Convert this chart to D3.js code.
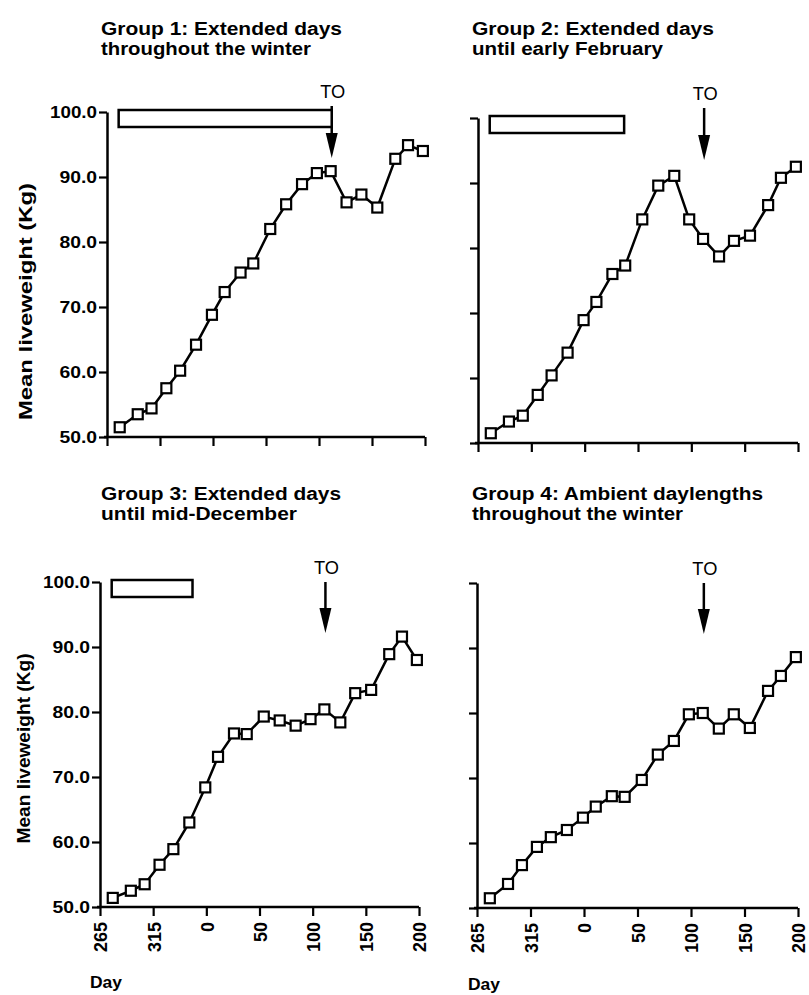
<!DOCTYPE html>
<html><head><meta charset="utf-8">
<script src="https://cdn.jsdelivr.net/npm/d3@7"></script>
<style>
body{margin:0;background:#fff}
svg{display:block}
text{font-family:"Liberation Sans",Arial,Helvetica,sans-serif;fill:#000}
</style>
</head><body>
<svg id="chart" width="809" height="995"></svg>
<script>
// ---- data (day of year; x axis runs Sept -> July) ----
const days = [277, 294, 307, 321, 334, 349, 364, 11, 26, 38, 54, 69, 84, 98, 111, 126, 140, 155, 172, 184, 198];
const group1 = [51.5, 53.5, 54.4, 57.5, 60.2, 64.2, 68.8, 72.3, 75.3, 76.7, 82.0, 85.8, 88.9, 90.6, 90.9, 86.1, 87.3, 85.3, 92.8, 94.9, 94.0];
const group2 = [51.5, 53.3, 54.2, 57.4, 60.4, 63.9, 68.9, 71.7, 76.0, 77.3, 84.4, 89.6, 91.1, 84.4, 81.4, 78.7, 81.1, 81.9, 86.6, 90.8, 92.5];
const group3 = [51.4, 52.5, 53.5, 56.5, 58.9, 63.0, 68.4, 73.1, 76.7, 76.6, 79.3, 78.7, 77.9, 78.9, 80.4, 78.4, 82.9, 83.4, 88.9, 91.6, 88.0];
const group4 = [51.5, 53.7, 56.6, 59.4, 60.9, 62.0, 63.9, 65.6, 67.2, 67.1, 69.7, 73.6, 75.7, 79.8, 80.0, 77.6, 79.8, 77.7, 83.4, 85.7, 88.6];

const xTickValues = [265, 315, 365, 415, 465, 515, 565];
const xTickLabels = ["265", "315", "0", "50", "100", "150", "200"];
const yTickValues = [50, 60, 70, 80, 90, 100];
const yTickLabels = ["50.0", "60.0", "70.0", "80.0", "90.0", "100.0"];

const titles = [
  ["Group 1: Extended days", "throughout the winter"],
  ["Group 2: Extended days", "until early February"],
  ["Group 3: Extended days", "until mid-December"],
  ["Group 4: Ambient daylengths", "throughout the winter"]
];
const extendedStart = 276;               // start of extended-day treatment
const extendedEnd = [112, 37, 352, null]; // end day per group (none for group 4)
const turnoutDay = 112;                   // "TO"
const yLabel = "Mean liveweight (Kg)";
const xLabel = "Day";

const toAxisDay = d => d < 265 ? d + 365 : d;

// ---- layout ----
const panels = [
  {series: group1, x0: 107, x1: 425, yb: 437, yt: 112, yLab: true, xLab: false,
   title: {x: 101, y: 35, w: [241, 210]}, toBase: 98, toTip: 158, ylab: {x: 32, len: 237}},
  {series: group2, x0: 478, x1: 798, yb: 443, yt: 118, yLab: false, xLab: false,
   title: {x: 472, y: 35, w: [242, 191]}, toBase: 100, toTip: 160},
  {series: group3, x0: 100, x1: 419, yb: 907, yt: 582, yLab: true, xLab: true,
   title: {x: 101, y: 500, w: [240, 196]}, toBase: 574, toTip: 633, ylab: {x: 30, len: 190}, dayX: 90, dayY: 988},
  {series: group4, x0: 477, x1: 798, yb: 908, yt: 583, yLab: false, xLab: true,
   title: {x: 472, y: 500, w: [291, 211]}, toBase: 575, toTip: 634, dayX: 468, dayY: 990}
];

const svg = d3.select("#chart");

panels.forEach((p, gi) => {
  const g = svg.append("g");
  const x = d3.scaleLinear().domain([265, 565]).range([p.x0, p.x1]);
  const y = d3.scaleLinear().domain([50, 100]).range([p.yb, p.yt]);

  // title
  titles[gi].forEach((t, li) => {
    g.append("text").attr("x", p.title.x).attr("y", p.title.y + li * 20)
      .attr("font-size", 18).attr("font-weight", "bold")
      .attr("textLength", p.title.w[li]).attr("lengthAdjust", "spacingAndGlyphs")
      .text(t);
  });

  // y axis
  const ya = g.append("g").attr("transform", `translate(${p.x0},0)`)
    .call(d3.axisLeft(y).tickValues(yTickValues).tickSize(8).tickSizeOuter(0)
      .tickFormat((d, i) => p.yLab ? yTickLabels[i] : ""));
  ya.select(".domain").attr("stroke-width", 2.5);
  ya.selectAll(".tick line").attr("stroke-width", 2.2);
  ya.selectAll(".tick text").attr("font-size", 16).attr("font-weight", "bold")
    .attr("x", -10).attr("fill", "#000")
    .attr("textLength", function () { return this.textContent.length * 9.4; })
    .attr("lengthAdjust", "spacingAndGlyphs");

  // x axis
  const xa = g.append("g").attr("transform", `translate(0,${p.yb})`)
    .call(d3.axisBottom(x).tickValues(xTickValues).tickSize(9).tickSizeOuter(0)
      .tickFormat((d, i) => p.xLab ? xTickLabels[i] : ""));
  xa.select(".domain").attr("stroke-width", 2.5).attr("d", `M${p.x0 - 3},0H${p.x1}`);
  xa.selectAll(".tick line").attr("stroke-width", 2.2);
  xa.selectAll(".tick text").attr("font-size", 19).attr("font-weight", "bold")
    .attr("transform", "rotate(-90)").attr("text-anchor", "end")
    .attr("x", -15).attr("y", 0).attr("dy", "0.36em").attr("fill", "#000")
    .attr("textLength", function () { return this.textContent.length * 10; })
    .attr("lengthAdjust", "spacingAndGlyphs");

  // y label
  if (p.ylab) {
    const cy = (p.yb + p.yt) / 2 + (gi === 0 ? 27 : 4);
    g.append("text").attr("transform", `translate(${p.ylab.x},${cy}) rotate(-90)`)
      .attr("text-anchor", "middle").attr("font-size", 18).attr("font-weight", "bold")
      .attr("textLength", p.ylab.len).attr("lengthAdjust", "spacingAndGlyphs")
      .text(yLabel);
  }
  if (p.dayX !== undefined) {
    g.append("text").attr("x", p.dayX).attr("y", p.dayY)
      .attr("font-size", 17).attr("font-weight", "bold")
      .attr("textLength", 32).attr("lengthAdjust", "spacingAndGlyphs").text(xLabel);
  }

  // TO arrow
  const xa0 = x(toAxisDay(turnoutDay));
  g.append("text").attr("x", xa0 + 1).attr("y", p.toBase).attr("text-anchor", "middle")
    .attr("font-size", 19).attr("textLength", 25).attr("lengthAdjust", "spacingAndGlyphs")
    .text("TO");
  g.append("line").attr("x1", xa0).attr("x2", xa0)
    .attr("y1", p.toBase + 8).attr("y2", p.toTip - 20)
    .attr("stroke", "#000").attr("stroke-width", 2.5);
  g.append("path")
    .attr("d", `M${xa0 - 6},${p.toTip - 25}L${xa0 + 6},${p.toTip - 25}L${xa0},${p.toTip}Z`)
    .attr("fill", "#000");

  // extended-days bar
  if (extendedEnd[gi] !== null) {
    const xs = x(extendedStart), xe = x(toAxisDay(extendedEnd[gi]));
    g.append("rect").attr("x", xs).attr("y", p.yt - 2)
      .attr("width", xe - xs).attr("height", 17)
      .attr("fill", "#fff").attr("stroke", "#000").attr("stroke-width", 2.5);
  }

  // series line + markers
  const pts = days.map((d, i) => [toAxisDay(d), p.series[i]]);
  g.append("path").datum(pts)
    .attr("d", d3.line().x(d => x(d[0])).y(d => y(d[1])))
    .attr("fill", "none").attr("stroke", "#000").attr("stroke-width", 2.5);
  g.selectAll("rect.m").data(pts).join("rect").attr("class", "m")
    .attr("x", d => x(d[0]) - 5).attr("y", d => y(d[1]) - 5)
    .attr("width", 10).attr("height", 10)
    .attr("fill", "#fff").attr("stroke", "#000").attr("stroke-width", 2.2);
});
</script>
</body></html>
